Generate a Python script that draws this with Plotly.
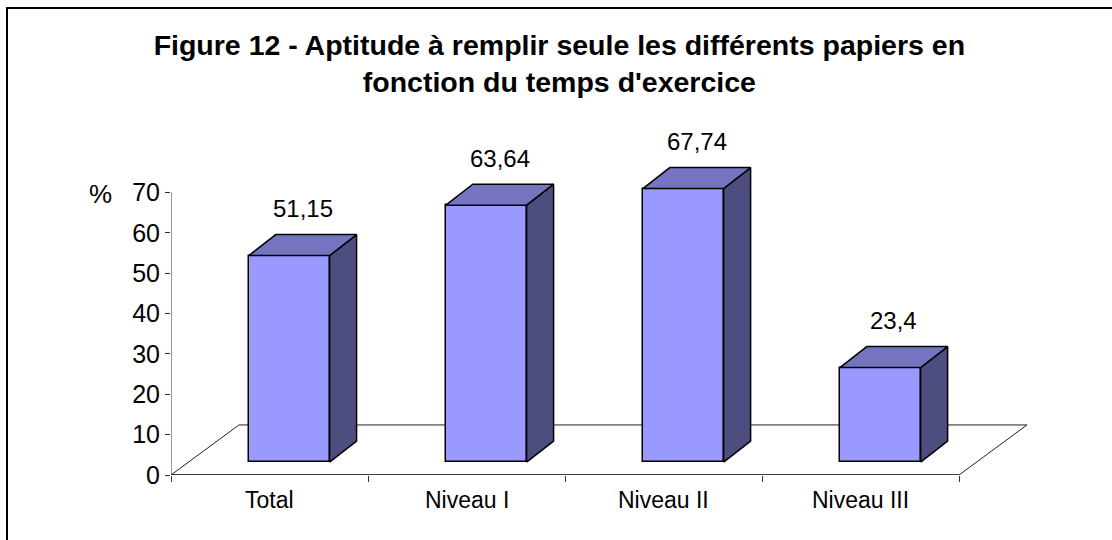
import plotly.graph_objects as go

# ---- data ----
categories = ["Total", "Niveau I", "Niveau II", "Niveau III"]
values = [51.15, 63.64, 67.74, 23.4]
y_ticks = [0, 10, 20, 30, 40, 50, 60, 70]
title_lines = ["Figure 12 - Aptitude à remplir seule les différents papiers en",
               "fonction du temps d'exercice"]
y_unit = "%"

# ---- style / geometry constants ----
W, H = 1112, 540
ML, MR, MT, MB = 171, 85, 152, 65
DX, DY = 0.345, 12.4          # floor depth projection (x units, value units)
BAR_W = 0.41                  # front face width
BX, BY0 = 0.10, 3.2           # front face offset from floor front
BDX, BDY = 0.137, 5.2         # bar depth projection
FRONT = "#9999FF"
TOP = "#7474C0"
SIDE = "#4D4D80"
FONT = "Liberation Sans, Arial, sans-serif"

n = len(categories)
x_lo, x_hi = -0.5, n - 0.5
y_max_range = 80
plot_w = W - ML - MR
plot_h = H - MT - MB

fig = go.Figure()

# front faces
xs = [i + BX for i in range(n)]
fig.add_trace(go.Bar(
    x=xs, y=values, base=[BY0] * n, width=BAR_W,
    marker=dict(color=FRONT, line=dict(color="black", width=1.5)),
    hoverinfo="skip", showlegend=False))

# side and top faces
for i, v in enumerate(values):
    xl = xs[i] - BAR_W / 2
    xr = xs[i] + BAR_W / 2
    yb = BY0
    yt = BY0 + v
    fig.add_trace(go.Scatter(
        x=[xr, xr + BDX, xr + BDX, xr, xr],
        y=[yb, yb + BDY, yt + BDY, yt, yb],
        mode="lines", fill="toself", fillcolor=SIDE,
        line=dict(color="black", width=1.5),
        hoverinfo="skip", showlegend=False))
    fig.add_trace(go.Scatter(
        x=[xl, xl + BDX, xr + BDX, xr, xl],
        y=[yt, yt + BDY, yt + BDY, yt, yt],
        mode="lines", fill="toself", fillcolor=TOP,
        line=dict(color="black", width=1.5),
        hoverinfo="skip", showlegend=False))

shapes = []
# floor
shapes.append(dict(type="line", xref="x", yref="y", x0=x_lo + DX, y0=DY, x1=x_hi + DX, y1=DY,
                   line=dict(color="#222", width=1), layer="below"))
shapes.append(dict(type="line", xref="x", yref="y", x0=x_lo, y0=0, x1=x_lo + DX, y1=DY,
                   line=dict(color="#222", width=1), layer="below"))
shapes.append(dict(type="line", xref="x", yref="y", x0=x_hi, y0=0, x1=x_hi + DX, y1=DY,
                   line=dict(color="#222", width=1), layer="below"))
shapes.append(dict(type="line", xref="x", yref="y", x0=x_lo, y0=0, x1=x_hi, y1=0,
                   line=dict(color="black", width=1.5), layer="below"))
# value axis line
shapes.append(dict(type="line", xref="x", yref="y", x0=x_lo, y0=0, x1=x_lo, y1=y_ticks[-1],
                   line=dict(color="#333", width=1), layer="below"))
# chart frame
def px_to_paper_x(px):
    return (px - ML) / plot_w

def px_to_paper_y(py):
    return (H - MB - py) / plot_h

shapes.append(dict(type="rect", xref="paper", yref="paper",
                   x0=px_to_paper_x(7), y0=px_to_paper_y(548),
                   x1=px_to_paper_x(1120), y1=px_to_paper_y(8),
                   line=dict(color="black", width=2), fillcolor="rgba(0,0,0,0)"))

annotations = []
for i, v in enumerate(values):
    annotations.append(dict(
        x=xs[i] + BDX / 2, y=BY0 + v + BDY, xref="x", yref="y",
        text=str(v).replace(".", ","), showarrow=False,
        yanchor="middle", yshift=26,
        font=dict(family=FONT, size=24, color="black")))
for i, c in enumerate(categories):
    annotations.append(dict(
        x=i, y=0, xref="x", yref="y", text=c, showarrow=False,
        yanchor="middle", yshift=-25,
        font=dict(family=FONT, size=23, color="black")))
annotations.append(dict(
    x=px_to_paper_x(100), y=y_ticks[-1], xref="paper", yref="y", text=y_unit,
    showarrow=False, xanchor="center", yanchor="middle", yshift=-2,
    font=dict(family=FONT, size=26, color="black")))

fig.update_layout(
    width=W, height=H,
    margin=dict(l=ML, r=MR, t=MT, b=MB),
    paper_bgcolor="white", plot_bgcolor="white",
    title=dict(text="<br>".join(title_lines), x=0.503, xref="container",
               y=1 - 54.5 / H, yref="container", xanchor="center", yanchor="middle",
               font=dict(family=FONT, size=28.5, color="black", weight="bold")),
    xaxis=dict(range=[x_lo, x_hi + DX], showgrid=False, zeroline=False, showline=False,
               tickvals=[x_lo + k for k in range(n + 1)], ticks="outside", ticklen=6,
               tickcolor="#333", showticklabels=False, fixedrange=True),
    yaxis=dict(range=[0, y_max_range], showgrid=False, zeroline=False, showline=False,
               tickvals=y_ticks, ticks="outside", ticklen=5, tickcolor="#333",
               tickfont=dict(family=FONT, size=25, color="black"), fixedrange=True),
    shapes=shapes, annotations=annotations,
    bargap=0,
)

fig.write_html("out.html",
               config={"displayModeBar": False},
               post_script="document.body.style.margin='0';document.body.style.overflow='hidden';")
